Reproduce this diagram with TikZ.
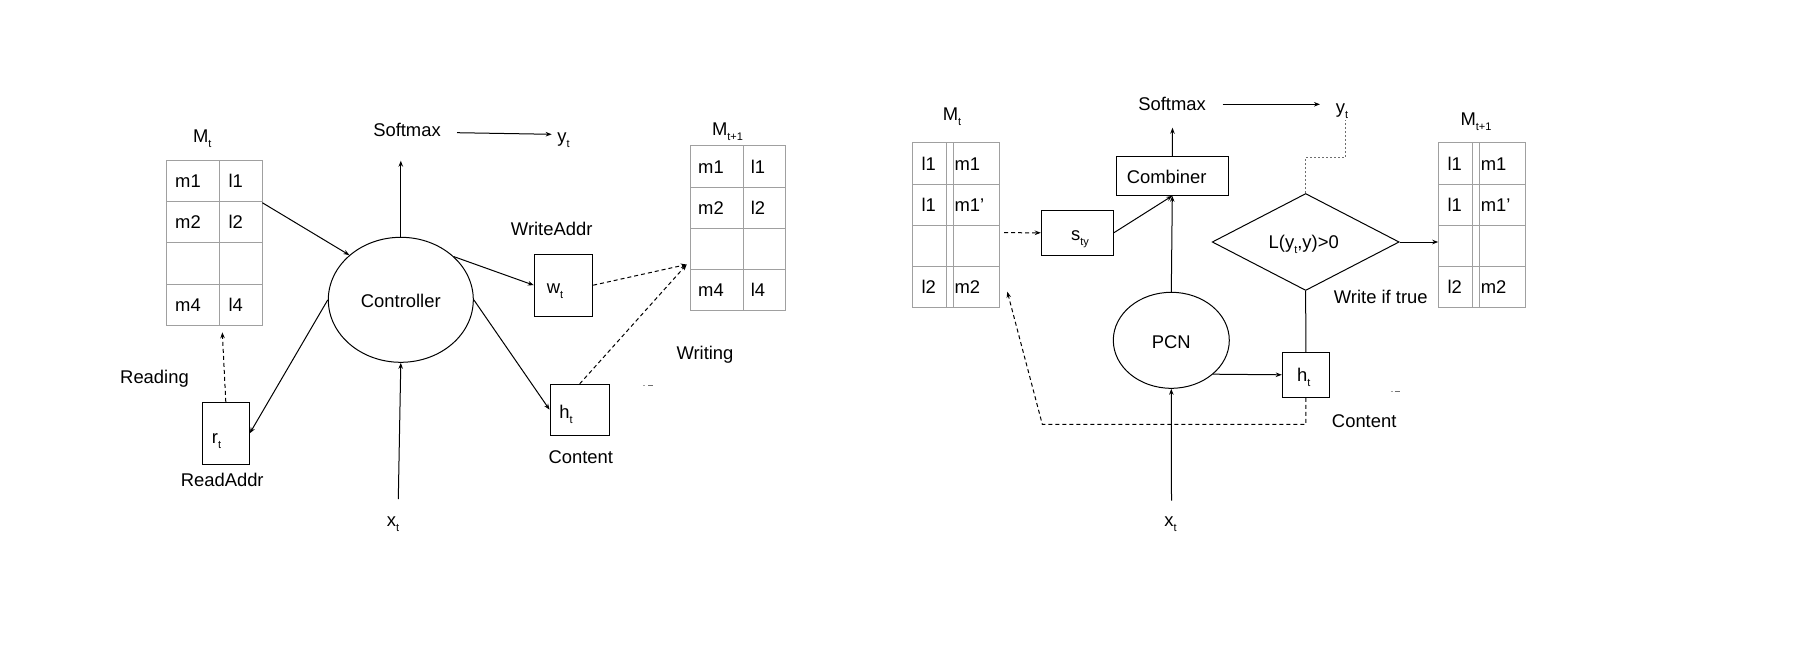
\documentclass[tikz,border=0pt]{standalone}
\usepackage{fontspec}
\setmainfont{Liberation Sans}
\usetikzlibrary{shapes.geometric,arrows.meta}
\definecolor{gridgray}{RGB}{160,160,160}
\definecolor{dotgray}{RGB}{110,110,110}
% lowered, smaller index as used in the labels (M_t, h_t, ...)
\newcommand\lowsub[1]{\raisebox{-5pt}{\fontsize{11}{11}\selectfont #1}}

\begin{document}
\begin{tikzpicture}[x=1pt,y=-1pt,
  font=\fontsize{18.4}{22}\selectfont,
  lbl/.style={inner sep=0pt, anchor=base},
  cell/.style={inner sep=0pt, anchor=base west},
  box/.style={draw, line width=1pt, inner sep=0pt, text depth=0pt},
  oval/.style={draw, ellipse, line width=1pt, inner sep=0pt, text depth=0pt},
  decision/.style={draw, diamond, line width=1pt, inner sep=0pt, text depth=0pt},
  tblbox/.style={draw=gridgray, line width=1pt, inner sep=0pt},
  gridline/.style={draw=gridgray, line width=1pt},
  arr/.style={line width=1pt, -{Stealth[length=6pt,width=4.5pt]}},
  dasharr/.style={arr, dash pattern=on 4pt off 3pt},
  dotline/.style={draw=dotgray, line width=1pt, dash pattern=on 2pt off 2pt},
]
\useasboundingbox (0,0) rectangle (1800,648);

%% ---------------- left: read / write memory ----------------
% memory M_t
\node[lbl] (MtL) at (202.2,142.7) {M\lowsub{t}};
\node[tblbox, minimum width=95.6pt, minimum height=165.3pt] (TL) at (214.5,242.65) {};
\draw[gridline] (219.3,160) -- (219.3,325.3);
\foreach \y in {201.7,242.7,284.3} \draw[gridline] (166.7,\y) -- (262.3,\y);
\node[cell] (TLm1) at (175,187.5) {m1};
\node[cell] (TLl1) at (228.3,187.5) {l1};
\node[cell] (TLm2) at (175,228.8) {m2};
\node[cell] (TLl2) at (228.3,228.8) {l2};
\node[cell] (TLm4) at (175,311.4) {m4};
\node[cell] (TLl4) at (228.3,311.4) {l4};

% memory M_{t+1}
\node[lbl] (MtpL) at (727.5,135) {M\lowsub{t+1}};
\node[tblbox, minimum width=95pt, minimum height=165pt] (TR) at (737.5,228.2) {};
\draw[gridline] (743.3,145.7) -- (743.3,310.7);
\foreach \y in {187.3,228.3,269.3} \draw[gridline] (690,\y) -- (785,\y);
\node[cell] (TRm1) at (698,173.3) {m1};
\node[cell] (TRl1) at (750.7,173.3) {l1};
\node[cell] (TRm2) at (698,214.6) {m2};
\node[cell] (TRl2) at (750.7,214.6) {l2};
\node[cell] (TRm4) at (698,296.8) {m4};
\node[cell] (TRl4) at (750.7,296.8) {l4};

% controller and address / content boxes
\node[oval, minimum width=145pt, minimum height=125pt, text height=15pt] (ctrl) at (400.8,299.8) {Controller};
\node[box, minimum width=47pt, minimum height=62pt, text height=20pt] (rt) at (225.8,433.3) {r\lowsub{t}\hspace*{18.6pt}};
\node[box, minimum width=58.4pt, minimum height=61.7pt, text height=16.2pt] (wt) at (563.5,285.2) {w\lowsub{t}\hspace*{17pt}};
\node[box, minimum width=59.3pt, minimum height=50.7pt, text height=17.2pt] (htL) at (579.7,409.7) {h\lowsub{t}\hspace*{27.4pt}};

% labels
\node[lbl] (smL) at (407,136.7) {Softmax};
\node[lbl] (ytL) at (563.5,142.5) {y\lowsub{t}};
\node[lbl] (waL) at (551.7,235) {WriteAddr};
\node[lbl] (readL) at (154.5,383.3) {Reading};
\node[lbl] (rdaL) at (222.2,486.7) {ReadAddr};
\node[lbl] (writL) at (705,359.2) {Writing};
\node[lbl] (contL) at (580.8,463.5) {Content};
\node[lbl] (xtL) at (393,526.7) {x\lowsub{t}};

% connectors
\coordinate (tlOut) at (262.3,202.7);
\draw[arr] (tlOut) -- (ctrl.139);
\coordinate (smInL) at (400.8,160.7);
\draw[arr] (ctrl.north) -- (smInL);
\coordinate (smOutL) at (457,132.7);
\coordinate (ytInL) at (551.7,134.3);
\draw[arr] (smOutL) -- (ytInL);
\draw[arr] (ctrl.west) -- (rt.east);
\coordinate (rdIn) at (222.3,332.3);
\draw[dasharr] (rt.north) -- (rdIn);
\coordinate (xtOutL) at (398.3,499);
\draw[arr] (xtOutL) -- (ctrl.south);
\draw[arr] (ctrl.39) -- (wt.west);
\draw[arr] (ctrl.east) -- (htL.west);
\coordinate (wrIn) at (686.7,264.5);
\draw[dasharr] (wt.east) -- (wrIn);
\draw[dasharr] (htL.north) -- (wrIn);

% small stray ticks
\draw[gridline] (643,385) -- (645,385);
\draw[line width=1pt, dotgray] (648,385.5) -- (653,385.5);

%% ---------------- right: PCN with label memory ----------------
% memory M_t
\node[lbl] (MtR) at (952,120.7) {M\lowsub{t}};
\node[tblbox, minimum width=87pt, minimum height=165.4pt] (TRL) at (955.8,225) {};
\draw[gridline] (946.7,142.3) -- (946.7,307.7);
\draw[gridline] (953.3,142.3) -- (953.3,307.7);
\foreach \y in {184.3,225.3,266.7} \draw[gridline] (912.3,\y) -- (999.3,\y);
\node[cell] (TRLl1) at (921.3,170) {l1};
\node[cell] (TRLm1) at (954.3,170) {m1};
\node[cell] (TRLl1b) at (921.3,211.5) {l1};
\node[cell] (TRLm1b) at (954.3,211.5) {m1’};
\node[cell] (TRLl2) at (921.3,293.9) {l2};
\node[cell] (TRLm2) at (954.3,293.9) {m2};

% memory M_{t+1}
\node[lbl] (MtpR) at (1476,125) {M\lowsub{t+1}};
\node[tblbox, minimum width=86.6pt, minimum height=165.4pt] (TRR) at (1482,225) {};
\draw[gridline] (1472.3,142.3) -- (1472.3,307.7);
\draw[gridline] (1479.3,142.3) -- (1479.3,307.7);
\foreach \y in {184.3,225.3,266.7} \draw[gridline] (1438.7,\y) -- (1525.3,\y);
\node[cell] (TRRl1) at (1447.3,170) {l1};
\node[cell] (TRRm1) at (1480.7,170) {m1};
\node[cell] (TRRl1b) at (1447.3,211.5) {l1};
\node[cell] (TRRm1b) at (1480.7,211.5) {m1’};
\node[cell] (TRRl2) at (1447.3,293.9) {l2};
\node[cell] (TRRm2) at (1480.7,293.9) {m2};

% processing blocks
\node[box, minimum width=112pt, minimum height=39pt, text height=15pt] (comb) at (1172.3,175.8) {Combiner\hspace*{11.2pt}};
\node[box, minimum width=72pt, minimum height=45pt, text height=15.8pt] (sty) at (1077.3,232.8) {\hspace*{5.4pt}s\lowsub{ty}};
\node[oval, minimum width=116pt, minimum height=96pt, text height=16pt] (pcn) at (1171.3,340.3) {PCN};
\node[box, minimum width=47pt, minimum height=45pt, text height=13.8pt] (htR) at (1305.8,374.8) {h\lowsub{t}\hspace*{4.2pt}};
\node[decision, minimum width=187pt, minimum height=97pt, text height=12pt] (dia) at (1305.7,242) {L(y\lowsub{t},y)>0\hspace*{4pt}};

% labels
\node[lbl] (smR) at (1172,110) {Softmax};
\node[lbl] (ytR) at (1342,113) {y\lowsub{t}};
\node[lbl] (wit) at (1380.8,303.3) {Write if true};
\node[lbl] (contR) at (1364.2,427.7) {Content};
\node[lbl] (xtR) at (1170.5,526.7) {x\lowsub{t}};

% connectors
\coordinate (trlOut) at (1004,232.7);
\draw[dasharr] (trlOut) -- (sty.west);
\draw[arr] (sty.east) -- (comb.south);
\draw[arr] (pcn.north) -- (comb.south);
\coordinate (smInR) at (1172.5,127.7);
\draw[arr] (comb.north) -- (smInR);
\coordinate (smOutR) at (1222.7,104.3);
\coordinate (ytInR) at (1320,104.3);
\draw[arr] (smOutR) -- (ytInR);
\coordinate (xtOutR) at (1171.5,500.5);
\draw[arr] (xtOutR) -- (pcn.south);
\draw[arr] (pcn.-39) -- (htR.west);
\draw[line width=1pt] (dia.south) -- (htR.north);
\draw[arr] (dia.east) -- (dia.east -| TRR.west);
\coordinate (dotTurn) at (1345.3,157.3);
\coordinate (dotEnd) at (1345.3,120);
\draw[dotline] (dia.north) |- (dotTurn) -- (dotEnd);
\coordinate (fbTurn) at (1042.3,424.3);
\coordinate (fbIn) at (1007.3,291.7);
\draw[dasharr] (htR.south) |- (fbTurn) -- (fbIn);

% small stray ticks
\draw[gridline] (1390.5,391) -- (1392.5,391);
\draw[line width=1pt, dotgray] (1394.5,391.5) -- (1399.5,391.5);
\end{tikzpicture}
\end{document}
